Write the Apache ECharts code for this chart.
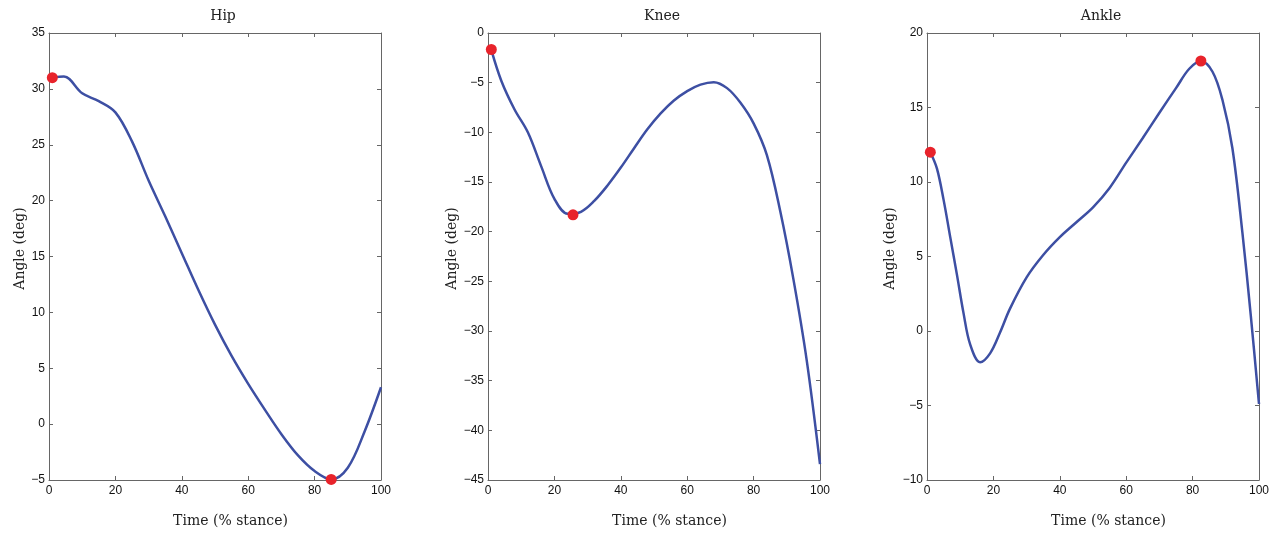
<!DOCTYPE html>
<html>
<head>
<meta charset="utf-8">
<script src="https://cdn.jsdelivr.net/npm/echarts@6/dist/echarts.min.js"></script>
<style>
html,body{margin:0;padding:0;background:#fff;}
#chart{width:1282px;height:533px;}
</style>
</head>
<body>
<div id="chart"></div>
<script>
// ---- data ----
const panelTitles = ['Hip', 'Knee', 'Ankle'];
const xAxisName = 'Time (% stance)';
const yAxisName = 'Angle (deg)';

const hipTime  = [1, 4.5, 10, 15, 20, 25, 30, 35, 40, 45, 50, 55, 60, 65, 70, 75, 80, 85, 90, 95, 100];
const hipAngle = [31.0, 31.1, 29.6, 28.9, 27.9, 25.3, 21.8, 18.6, 15.3, 12.0, 8.9, 6.1, 3.6, 1.3, -0.9, -2.8, -4.2, -4.95, -3.9, -0.7, 3.3];
const hipMarkTime  = [1, 85];
const hipMarkAngle = [31.0, -4.95];

const kneeTime  = [1, 4, 8, 12, 16, 20, 24, 28, 32, 36, 40, 44, 48, 52, 56, 60, 64, 68, 72, 76, 80, 84, 88, 92, 96, 100];
const kneeAngle = [-1.7, -4.8, -7.7, -10.0, -13.4, -16.7, -18.2, -18.0, -16.9, -15.35, -13.55, -11.6, -9.7, -8.1, -6.8, -5.85, -5.2, -4.95, -5.55, -7.0, -9.1, -12.3, -17.9, -24.8, -32.95, -43.4];
const kneeMarkTime  = [1, 25.6];
const kneeMarkAngle = [-1.66, -18.3];

const ankleTime  = [1, 3, 5, 7, 9, 11, 13, 16, 19, 22, 25, 30, 35, 40, 45, 50, 55, 60, 65, 70, 75, 79, 82.5, 86, 89, 92, 95, 97.5, 100];
const ankleAngle = [12.0, 10.9, 8.8, 6.3, 3.8, 1.2, -0.9, -2.1, -1.5, -0.1, 1.5, 3.6, 5.1, 6.3, 7.3, 8.3, 9.6, 11.3, 12.95, 14.65, 16.3, 17.6, 18.1, 17.4, 15.5, 12.25, 6.6, 1.1, -4.9];
const ankleMarkTime  = [1, 82.5];
const ankleMarkAngle = [12.0, 18.12];

const xTicks = {min: 0, max: 100, interval: 20};
const yRanges = [
  {min: -5,  max: 35, interval: 5},
  {min: -45, max: 0,  interval: 5},
  {min: -10, max: 20, interval: 5}
];

// ---- layout / style ----
const lineColor = '#3d4fa3';
const markColor = '#e8232b';
const frameColor = '#666';
const gridLefts = [49, 488, 927];
const gridWidth = 332;
const gridTop = 33;
const gridHeight = 450;
const yNameGaps = [22, 29, 30];
const serif = '"DejaVu Serif", "Liberation Serif", serif';
const sans = '"Liberation Sans", Arial, sans-serif';

const pairs = (xs, ys) => xs.map((x, i) => [x, ys[i]]);
const lines = [pairs(hipTime, hipAngle), pairs(kneeTime, kneeAngle), pairs(ankleTime, ankleAngle)];
const marks = [pairs(hipMarkTime, hipMarkAngle), pairs(kneeMarkTime, kneeMarkAngle), pairs(ankleMarkTime, ankleMarkAngle)];

const fmt = v => String(v).replace('-', '\u2212');

const grids = [], xAxes = [], yAxes = [], series = [], titles = [];
for (let i = 0; i < 3; i++) {
  grids.push({left: gridLefts[i], top: gridTop, width: gridWidth, height: gridHeight, containLabel: false});
  titles.push({
    text: panelTitles[i],
    left: gridLefts[i] + gridWidth / 2 + 3,
    textAlign: 'center',
    top: 4,
    textStyle: {fontFamily: serif, fontWeight: 'normal', fontSize: 14, color: '#222'}
  });
  const common = {
    gridIndex: i,
    axisLine: {show: true, onZero: false, lineStyle: {color: frameColor, width: 1}},
    axisTick: {show: true, inside: true, length: 4, lineStyle: {color: frameColor}},
    splitLine: {show: false}
  };
  xAxes.push(Object.assign({}, common, {
    type: 'value', position: 'bottom', min: xTicks.min, max: xTicks.max, interval: xTicks.interval,
    name: xAxisName, nameLocation: 'middle', nameGap: 34,
    nameTextStyle: {fontFamily: serif, fontSize: 14, color: '#222', padding: [0, 0, 0, 31]},
    axisLabel: {fontFamily: sans, fontSize: 12, color: '#111', margin: 5, formatter: fmt}
  }));
  xAxes.push(Object.assign({}, common, {
    type: 'value', position: 'top', min: xTicks.min, max: xTicks.max, interval: xTicks.interval,
    axisLabel: {show: false}
  }));
  yAxes.push(Object.assign({}, common, {
    type: 'value', position: 'left', min: yRanges[i].min, max: yRanges[i].max, interval: yRanges[i].interval,
    name: yAxisName, nameLocation: 'middle', nameGap: yNameGaps[i],
    nameTextStyle: {fontFamily: serif, fontSize: 14, color: '#222', padding: [0, 0, 0, 16]},
    axisLabel: {fontFamily: sans, fontSize: 12, color: '#111', margin: 4, formatter: fmt}
  }));
  yAxes.push(Object.assign({}, common, {
    type: 'value', position: 'right', min: yRanges[i].min, max: yRanges[i].max, interval: yRanges[i].interval,
    axisLabel: {show: false}
  }));
  series.push({
    type: 'line', xAxisIndex: 2 * i, yAxisIndex: 2 * i, data: lines[i],
    smooth: 0.35, symbol: 'none', lineStyle: {color: lineColor, width: 2.5}, clip: true, z: 2
  });
  series.push({
    type: 'scatter', xAxisIndex: 2 * i, yAxisIndex: 2 * i, data: marks[i],
    symbol: 'circle', symbolSize: 11, itemStyle: {color: markColor, opacity: 1}, z: 3, clip: false
  });
}

const chart = echarts.init(document.getElementById('chart'), null, {renderer: 'canvas'});
chart.setOption({
  animation: false,
  backgroundColor: '#fff',
  title: titles,
  grid: grids,
  xAxis: xAxes,
  yAxis: yAxes,
  series: series
});
</script>
</body>
</html>
